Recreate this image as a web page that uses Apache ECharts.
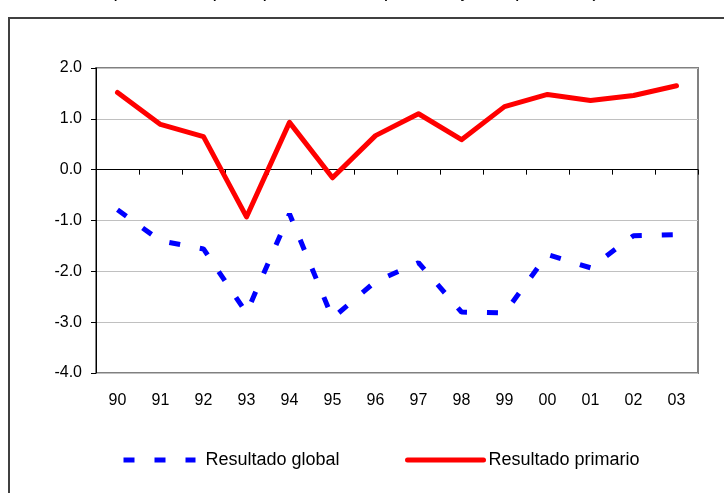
<!DOCTYPE html>
<html>
<head>
<meta charset="utf-8">
<script src="https://cdn.jsdelivr.net/npm/echarts@6/dist/echarts.min.js"></script>
<style>
html,body{margin:0;padding:0;background:#fff;}
#c{width:724px;height:493px;}
</style>
</head>
<body>
<div id="c"></div>
<script>
var titleText = '(Resultado presupuestario, en porcentaje del producto)';
var years = ['90','91','92','93','94','95','96','97','98','99','00','01','02','03'];
var resultadoGlobal = [-0.79,-1.40,-1.56,-2.82,-0.87,-2.92,-2.20,-1.83,-2.80,-2.82,-1.67,-1.93,-1.30,-1.28];
var resultadoPrimario = [1.52,0.89,0.65,-0.93,0.93,-0.16,0.67,1.10,0.59,1.24,1.48,1.36,1.46,1.65];
var yMin = -4, yMax = 2, yStep = 1;

var FONT = "'Liberation Sans', Arial, sans-serif";
var chart = echarts.init(document.getElementById('c'), null, {renderer:'canvas'});
chart.setOption({
  animation:false,
  backgroundColor:'#ffffff',
  title:{
    text:titleText, left:107, top:-24,
    textStyle:{fontFamily:FONT, fontStyle:'italic', fontWeight:'normal', fontSize:20, color:'#000'}
  },
  graphic:[{
    type:'rect', silent:true, z:-10,
    shape:{x:9, y:18, width:800, height:600},
    style:{fill:null, stroke:'#404040', lineWidth:2}
  }],
  grid:{
    left:96, top:68, right:26, bottom:120,
    show:true, borderColor:'#808080', borderWidth:2, backgroundColor:'transparent'
  },
  legend:[{
    data:['Resultado global'], left:116, top:446, itemWidth:72, itemHeight:18,
    itemStyle:{opacity:0},
    lineStyle:{width:5},
    textStyle:{fontFamily:FONT, fontSize:18, color:'#000', padding:[0,0,0,5]}
  },{
    data:['Resultado primario'], left:400, top:446, itemWidth:76, itemHeight:18,
    itemStyle:{opacity:0},
    lineStyle:{width:5},
    textStyle:{fontFamily:FONT, fontSize:18, color:'#000'}
  }],
  xAxis:[{
    type:'category', data:years, position:'bottom', boundaryGap:true,
    axisLine:{show:false, onZero:false},
    axisTick:{show:false},
    axisLabel:{margin:20, fontFamily:FONT, fontSize:16, color:'#000'},
    splitLine:{show:false}
  },{
    type:'category', data:years, position:'top', boundaryGap:true,
    axisLine:{show:true, onZero:true, lineStyle:{color:'#000', width:1}},
    axisTick:{show:true, inside:true, length:5, lineStyle:{color:'#000', width:1}},
    axisLabel:{show:false},
    splitLine:{show:false}
  }],
  yAxis:{
    type:'value', min:yMin, max:yMax, interval:yStep,
    axisLine:{show:true, lineStyle:{color:'#000', width:1}},
    axisTick:{show:true, length:5, lineStyle:{color:'#000', width:1}},
    axisLabel:{margin:14, fontFamily:FONT, fontSize:16, color:'#000',
      formatter:function(v){return v.toFixed(1);}},
    splitLine:{show:true, lineStyle:{color:'#c0c0c0', width:1}}
  },
  series:[{
    name:'Resultado global', type:'line', xAxisIndex:0, data:resultadoGlobal,
    symbol:'none', smooth:false,
    lineStyle:{color:'#0000ff', width:5, type:[11,20]},
    itemStyle:{color:'#0000ff'}
  },{
    name:'Resultado primario', type:'line', xAxisIndex:0, data:resultadoPrimario,
    symbol:'none', smooth:false,
    lineStyle:{color:'#ff0000', width:5, cap:'round', join:'round'},
    itemStyle:{color:'#ff0000'}
  }]
});
</script>
</body>
</html>
